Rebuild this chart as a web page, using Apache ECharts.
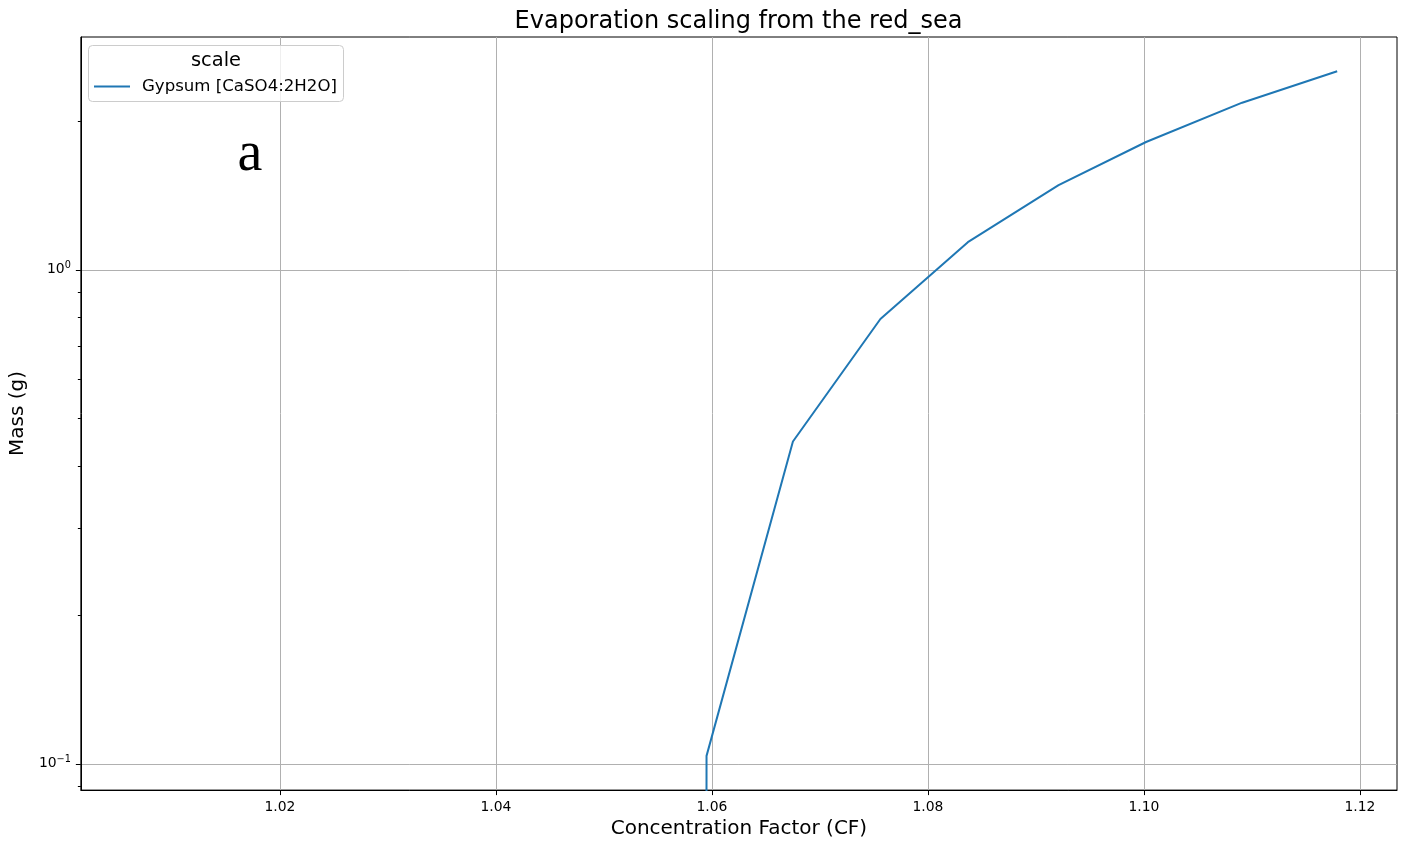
<!DOCTYPE html>
<html>
<head>
<meta charset="utf-8">
<title>Evaporation scaling from the red_sea</title>
<script src="https://cdn.jsdelivr.net/npm/echarts@6/dist/echarts.min.js"></script>
<style>
  html, body { margin: 0; padding: 0; background: #ffffff; }
  #chart { width: 1408px; height: 844px; }
</style>
</head>
<body>
<div id="chart"></div>
<script>
// Gypsum precipitated while red sea water is evaporated
const concentrationFactor = [1.0071, 1.0519, 1.0595, 1.0675, 1.0756, 1.0837, 1.0921, 1.1002, 1.1091, 1.1179];
const gypsumMass = [0, 0, 0.1038, 0.4493, 0.7950, 1.1375, 1.4832, 1.8140, 2.1790, 2.5230];

const xTicks = [1.02, 1.04, 1.06, 1.08, 1.10, 1.12];
const yMajorTicks = [0.1, 1];
const yMinorTicks = [0.09, 0.2, 0.3, 0.4, 0.5, 0.6, 0.7, 0.8, 0.9, 2];

const seriesName = 'Gypsum [CaSO4:2H2O]';
const chartTitle = 'Evaporation scaling from the red_sea';
const xName = 'Concentration Factor (CF)';
const yName = 'Mass (g)';
const legendTitle = 'scale';
const panelLetter = 'a';

const FONT = '"DejaVu Sans", "Liberation Sans", sans-serif';
const BLUE = '#1f77b4';
const GRID_GREY = '#b0b0b0';

// Masses of zero cannot sit on a log axis: push them far below the visible range
const LOG_FLOOR = 1e-300;

// Axis ranges padded by 5% of the data span (log span for the mass axis)
const xMin0 = Math.min(...concentrationFactor);
const xMax0 = Math.max(...concentrationFactor);
const xPad = 0.05 * (xMax0 - xMin0);
const positiveMass = gypsumMass.filter(v => v > 0);
const lMin0 = Math.log10(Math.min(...positiveMass));
const lMax0 = Math.log10(Math.max(...positiveMass));
const lPad = 0.05 * (lMax0 - lMin0);
const yMin = Math.pow(10, lMin0 - lPad);
const yMax = Math.pow(10, lMax0 + lPad);

const seriesData = concentrationFactor.map((cf, i) => [cf, gypsumMass[i] > 0 ? gypsumMass[i] : LOG_FLOOR]);

function powerLabel(v) {
  const e = Math.round(Math.log10(v));
  const exp = e < 0 ? '\u2212' + Math.abs(e) : String(e);
  return '{b|10}{s|' + exp + '}';
}

const chart = echarts.init(document.getElementById('chart'), null, { renderer: 'canvas' });

chart.setOption({
  animation: false,
  backgroundColor: '#ffffff',
  textStyle: { fontFamily: FONT },
  grid: {
    left: 80, top: 37, width: 1317, height: 754.5,
    show: true, borderColor: '#000000', borderWidth: 1, backgroundColor: 'transparent'
  },
  legend: {
    data: [{ name: seriesName, icon: 'rect' }],
    left: 94, top: 78, padding: 0,
    itemWidth: 36, itemHeight: 2,
    selectedMode: false, z: 10,
    textStyle: { fontFamily: FONT, fontSize: 16.6, color: '#000000', padding: [0, 0, 0, 7] }
  },
  xAxis: {
    type: 'value',
    min: xMin0 - xPad, max: xMax0 + xPad,
    name: xName, nameLocation: 'middle', nameGap: 27,
    nameTextStyle: { fontFamily: FONT, fontSize: 20, color: '#000000' },
    axisLine: { show: true, lineStyle: { color: '#000000', width: 1 } },
    axisTick: { show: true, length: 5, customValues: xTicks, lineStyle: { color: '#000000', width: 1 } },
    axisLabel: {
      customValues: xTicks, margin: 10, fontFamily: FONT, fontSize: 13.9, color: '#000000',
      formatter: v => v.toFixed(2)
    },
    splitLine: { show: true, lineStyle: { color: GRID_GREY, width: 1 } }
  },
  yAxis: [
    {
      type: 'log', logBase: 10,
      min: yMin, max: yMax,
      position: 'left',
      name: yName, nameLocation: 'middle', nameGap: 48,
      nameTextStyle: { fontFamily: FONT, fontSize: 20, color: '#000000' },
      axisLine: { show: true, lineStyle: { color: '#000000', width: 1 } },
      axisTick: { show: true, length: 5, customValues: yMajorTicks, lineStyle: { color: '#000000', width: 1 } },
      axisLabel: {
        customValues: yMajorTicks, margin: 10, color: '#000000',
        formatter: powerLabel,
        rich: {
          b: { fontFamily: FONT, fontSize: 13.9, lineHeight: 18, color: '#000000' },
          s: { fontFamily: FONT, fontSize: 9.7, lineHeight: 10, verticalAlign: 'top', color: '#000000' }
        }
      },
      splitLine: { show: true, lineStyle: { color: GRID_GREY, width: 1 } },
      minorTick: { show: false }
    },
    {
      // minor ticks of the log axis
      type: 'log', logBase: 10,
      min: yMin, max: yMax,
      position: 'left', offset: 0,
      axisLine: { show: false },
      axisTick: { show: true, length: 3, customValues: yMinorTicks, lineStyle: { color: '#000000', width: 1 } },
      axisLabel: { show: false },
      splitLine: { show: false }
    }
  ],
  series: [
    {
      name: seriesName,
      type: 'line',
      xAxisIndex: 0, yAxisIndex: 0,
      data: seriesData,
      showSymbol: false, symbol: 'none',
      clip: true,
      color: BLUE,
      lineStyle: { color: BLUE, width: 2 },
      itemStyle: { color: BLUE },
      emphasis: { disabled: true }
    }
  ],
  graphic: [
    {
      type: 'text', z: 10,
      style: {
        text: chartTitle, x: 738.5, y: 22, align: 'center', verticalAlign: 'middle',
        font: '24px ' + FONT, fill: '#000000'
      }
    },
    {
      type: 'rect', z: 3,
      shape: { x: 88.5, y: 45.5, width: 255, height: 56, r: 4 },
      style: { fill: 'rgba(255,255,255,0.8)', stroke: '#cccccc', lineWidth: 1 }
    },
    {
      type: 'text', z: 10,
      style: {
        text: legendTitle, x: 216, y: 61, align: 'center', verticalAlign: 'middle',
        font: '19.4px ' + FONT, fill: '#000000'
      }
    },
    {
      type: 'text', z: 10,
      style: {
        text: panelLetter, x: 250, y: 155, align: 'center', verticalAlign: 'middle',
        font: '56px "Liberation Serif", "Times New Roman", serif', fill: '#000000'
      }
    }
  ]
});
</script>
</body>
</html>
